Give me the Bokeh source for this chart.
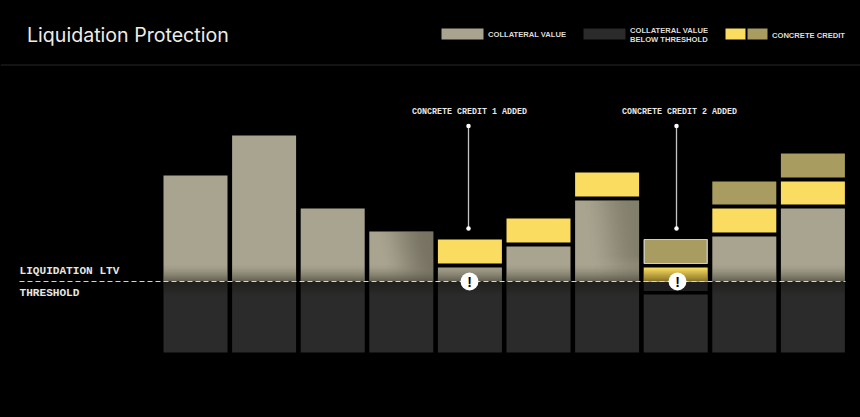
import numpy as np
from bokeh.plotting import figure
from bokeh.embed import file_html
from bokeh.resources import INLINE
from bokeh.core.properties import value

title = "Liquidation Protection"
bars = list(range(10))
collateral = [106, 146, 73, 50, 14, 35, 81, 0, 45, 73]
below_top = [0, 0, 0, 0, 0, 0, 0, -13, 0, 0]
below_bottom = [-71] * 10
credit1_low = [None, None, None, None, 18, 39, 85, -0.5, 49, 77]
credit1_high = [None, None, None, None, 42, 63, 109, 14, 73, 100]
credit2_low = [None, None, None, None, None, None, None, 18, 77, 104]
credit2_high = [None, None, None, None, None, None, None, 42, 100, 128]
callouts = ["CONCRETE CREDIT 1 ADDED", "CONCRETE CREDIT 2 ADDED"]
threshold_labels = ["LIQUIDATION LTV", "THRESHOLD"]
legend_labels = ["COLLATERAL VALUE", "COLLATERAL VALUE", "BELOW THRESHOLD", "CONCRETE CREDIT"]

C_COLL, C_DARK, C_YEL, C_OLV = "#a9a490", "#2b2b2b", "#f9dc60", "#a89c60"
FG = "#e6e6e2"
MONO = value("Liberation Mono")

W, H = 860, 417
X0, STEP, BW = 195.0, 68.6, 64.0
Y0 = 281.0
def dx(px): return (px - X0) / STEP
def dy(py): return Y0 - py

p = figure(width=W, height=H, output_backend="svg", toolbar_location=None,
           x_range=(dx(0), dx(W)), y_range=(dy(H), dy(0)),
           background_fill_color="#000000", border_fill_color="#000000",
           min_border=0, outline_line_color=None)
p.axis.visible = False
p.grid.visible = False
hw = BW / STEP / 2

def q(idx, lo, hi, color, **kw):
    p.quad(left=[i - hw for i in idx], right=[i + hw for i in idx], bottom=lo, top=hi,
           fill_color=color, line_color=None, **kw)

q(bars, [0] * 10, collateral, C_COLL)
q(bars, below_bottom, below_top, C_DARK)
for lows, highs, col in ((credit1_low, credit1_high, C_YEL), (credit2_low, credit2_high, C_OLV)):
    idx = [i for i in bars if lows[i] is not None]
    q(idx, [lows[i] for i in idx], [highs[i] for i in idx], col)

# white outline on the credit that has just been added
p.quad(left=[7 - hw + 0.008], right=[7 + hw - 0.008], bottom=[credit2_low[7]], top=[credit2_high[7]],
       fill_color=None, line_color="#d0cec4", line_width=1.2)

# shade: darkening just above and below the threshold
def overlay(x_px, y_px, w, h, alpha, rgb=(20, 18, 10)):
    img = np.zeros((alpha.shape[0], alpha.shape[1], 4), dtype=np.uint8)
    img[..., 0], img[..., 1], img[..., 2] = rgb
    img[..., 3] = np.clip(alpha * 255, 0, 255).astype(np.uint8)
    v = img.view(dtype=np.uint32).reshape(alpha.shape)
    p.image_rgba(image=[v], x=[dx(x_px)], y=[dy(y_px + h)], dw=[w / STEP], dh=[h])

rows = 18
grad = np.linspace(0.62, 0.0, rows).reshape(rows, 1) ** 1.6
below = np.linspace(0.0, 0.45, 14).reshape(14, 1)
for i in bars:
    if i == 7:
        continue
    left = X0 + STEP * i - BW / 2
    overlay(left, 263, BW, 18, grad)
    overlay(left, 281, BW, 14, below)

# yellow shading on stack 8
left = X0 + STEP * 7 - BW / 2
overlay(left, 267, BW, 14, np.linspace(0.6, 0.0, 14).reshape(14, 1), rgb=(60, 45, 0))
q([7], [-9.5], [-0.5], "#1f1f1f")

# soft shadow at the right of stacks 4 and 7
def corner(i, top_px, strength):
    left = X0 + STEP * i - BW / 2
    h = 281 - top_px
    n = 64
    yy, xx = np.mgrid[0:n, 0:n] / (n - 1)
    t = np.clip((xx - 0.15) / 0.85 + (yy - 0.5) * 0.2, 0, 1)
    a = t * t * (3 - 2 * t) * np.clip(yy * 2 + 0.35, 0, 1)
    overlay(left, top_px, BW, h, a * strength, rgb=(50, 46, 34))

corner(3, 231, 0.42)
corner(6, 200, 0.32)

# threshold line
p.segment(x0=[dx(19)], y0=[0], x1=[dx(845)], y1=[0], line_color="#d8d6ca", line_width=1, line_dash="5 3")

# callouts
stem_x = [dx(468), dx(676)]
stem_top = dy(125.5)
stem_bottom = dy(228)
p.segment(x0=stem_x, y0=[stem_bottom] * 2, x1=stem_x, y1=[stem_top] * 2, line_color="#c4c4c4", line_width=1.3)
p.scatter(x=stem_x * 2, y=[stem_top] * 2 + [stem_bottom] * 2, size=4.5, fill_color="#ffffff", line_color=None)
p.text(x=[dx(469), dx(679)], y=[dy(111.5)] * 2, text=callouts, text_color=FG, text_align="center",
       text_baseline="middle", text_font=MONO, text_font_size="8.33px", text_font_style="bold")

# alert badges
ax = [dx(469), dx(677)]
p.scatter(x=ax, y=[0, 0], size=18, fill_color="#ffffff", line_color=None)
p.text(x=ax, y=[0, 0], text=["!", "!"], text_color="#000000", text_align="center", text_baseline="middle",
       text_font=value("Liberation Sans"), text_font_size="14px", text_font_style="bold")

# threshold labels
p.text(x=[dx(19), dx(19)], y=[dy(270), dy(292.5)], text=threshold_labels, text_color=FG, text_baseline="middle",
       text_font=MONO, text_font_size="11.1px", text_font_style="bold")

# header
p.text(x=[dx(26.5)], y=[dy(34.5)], text=[title], text_color="#ecece8", text_baseline="middle",
       text_font=value("Inter"), text_font_size="19.6px")
p.segment(x0=[dx(0)], y0=[dy(64.5)], x1=[dx(860)], y1=[dy(64.5)], line_color="#262626", line_width=1)

# legend
for l, r, col in ((441, 483, C_COLL), (583, 625, "#2b2b2b"), (725, 745, C_YEL), (747, 767, C_OLV)):
    p.quad(left=[dx(l)], right=[dx(r)], bottom=[dy(39)], top=[dy(28)], fill_color=col, line_color=None)
p.text(x=[dx(487.5), dx(629.5), dx(629.5), dx(771.5)], y=[dy(33.5), dy(29.5), dy(38.5), dy(34.5)], text=legend_labels,
       text_color="#dcdcd8", text_baseline="middle", text_font=value("Liberation Sans"), text_font_size="7.6px",
       text_font_style="bold")

html = file_html(p, INLINE)
html = html.replace("<head>", "<head><style>html,body{background:#000;}</style>", 1)
open("out.html", "w").write(html)
